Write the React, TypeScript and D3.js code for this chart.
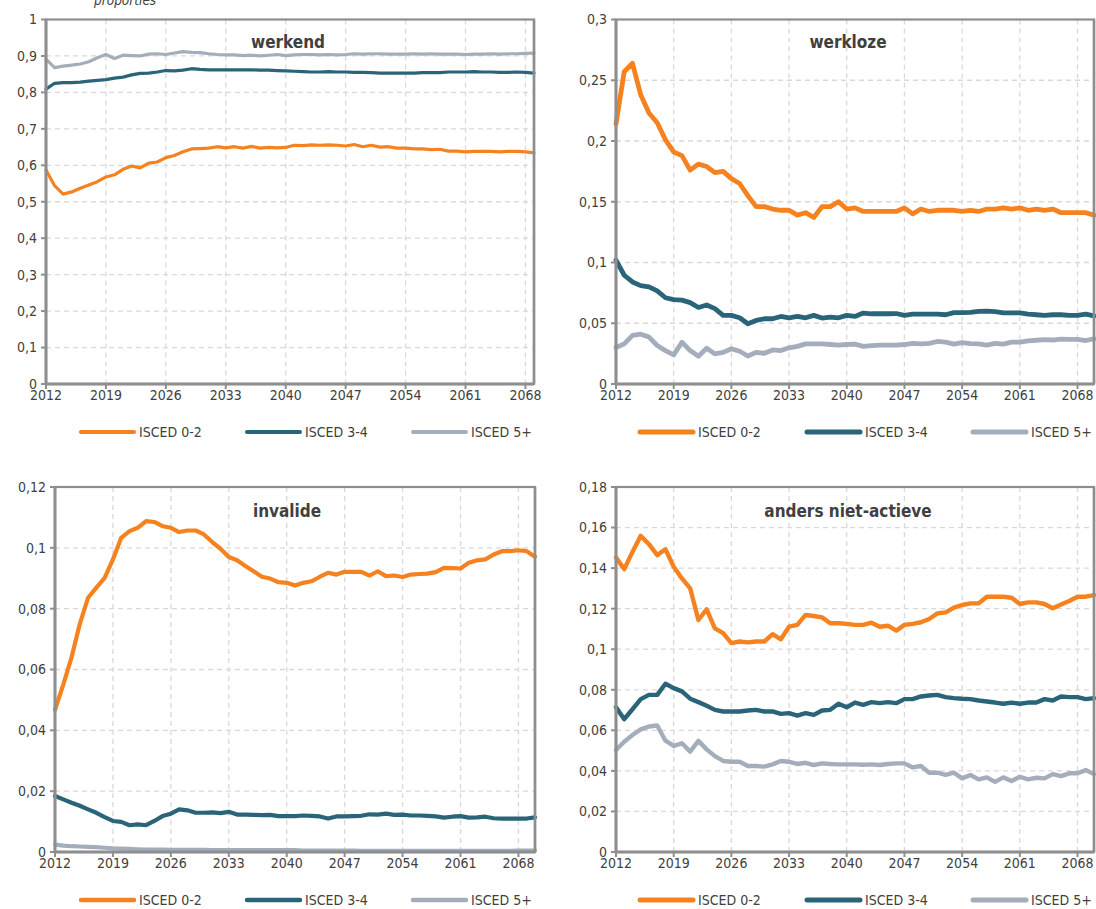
import React from 'react';
import * as d3 from 'd3';

// ---------- data ----------
const seriesNames = ['ISCED 0-2', 'ISCED 3-4', 'ISCED 5+'];
const seriesColors = ['#f5821f', '#2a6479', '#a4aebb'];
const xLabelYears = [2012, 2019, 2026, 2033, 2040, 2047, 2054, 2061, 2068];

const years2069 = d3.range(2012, 2070);
const years2070 = d3.range(2012, 2071);

const werkendTicks = [0, 0.1, 0.2, 0.3, 0.4, 0.5, 0.6, 0.7, 0.8, 0.9, 1];
const werklozeTicks = [0, 0.05, 0.1, 0.15, 0.2, 0.25, 0.3];
const invalideTicks = [0, 0.02, 0.04, 0.06, 0.08, 0.1, 0.12];
const andersTicks = [0, 0.02, 0.04, 0.06, 0.08, 0.1, 0.12, 0.14, 0.16, 0.18];

// werkend (2012-2069)
const werkend02 = [
  0.587, 0.544, 0.521, 0.527, 0.537, 0.546, 0.555, 0.568, 0.574, 0.589,
  0.598, 0.593, 0.606, 0.609, 0.621, 0.627, 0.637, 0.645, 0.646, 0.647,
  0.651, 0.648, 0.651, 0.647, 0.652, 0.647, 0.649, 0.648, 0.649, 0.655,
  0.654, 0.656, 0.655, 0.656, 0.655, 0.653, 0.657, 0.651, 0.655, 0.65,
  0.651, 0.647, 0.647, 0.645, 0.645, 0.643, 0.644, 0.639, 0.639, 0.637,
  0.638, 0.638, 0.638, 0.637, 0.638, 0.638, 0.637, 0.634,
];
const werkend34 = [
  0.809, 0.825, 0.827, 0.827, 0.828, 0.831, 0.833, 0.835, 0.839, 0.842,
  0.848, 0.852, 0.853, 0.856, 0.86, 0.859, 0.861, 0.865, 0.863, 0.862,
  0.862, 0.862, 0.862, 0.862, 0.862, 0.861, 0.861, 0.86, 0.859, 0.858,
  0.857, 0.856, 0.856, 0.857, 0.856, 0.856, 0.855, 0.855, 0.854, 0.853,
  0.853, 0.853, 0.853, 0.853, 0.854, 0.854, 0.854, 0.856, 0.856, 0.856,
  0.857, 0.856, 0.856, 0.855, 0.855, 0.856, 0.855, 0.853,
];
const werkend5 = [
  0.891, 0.868, 0.872, 0.875, 0.878, 0.884, 0.895, 0.904, 0.893, 0.902,
  0.901, 0.9, 0.905, 0.906, 0.904, 0.908, 0.912, 0.91, 0.909, 0.906,
  0.904, 0.903, 0.903, 0.901, 0.902, 0.9, 0.902, 0.904, 0.901, 0.903,
  0.904, 0.904, 0.903, 0.904, 0.903, 0.904, 0.906, 0.905, 0.906, 0.906,
  0.905, 0.905, 0.905, 0.906, 0.905, 0.906, 0.905, 0.905, 0.905, 0.904,
  0.905, 0.905, 0.906, 0.905, 0.906, 0.906, 0.907, 0.908,
];

// werkloze (2012-2070)
const werkloze02 = [
  0.214, 0.257, 0.264, 0.238, 0.223, 0.215, 0.201, 0.191, 0.188, 0.176,
  0.181, 0.179, 0.174, 0.175, 0.169, 0.165, 0.155, 0.146, 0.146, 0.144,
  0.143, 0.143, 0.139, 0.141, 0.137, 0.146, 0.146, 0.15, 0.144, 0.145,
  0.142, 0.142, 0.142, 0.142, 0.142, 0.145, 0.14, 0.144, 0.142, 0.143,
  0.143, 0.143, 0.142, 0.143, 0.142, 0.144, 0.144, 0.145, 0.144, 0.145,
  0.143, 0.144, 0.143, 0.144, 0.141, 0.141, 0.141, 0.141, 0.139,
];
const werkloze34 = [
  0.102, 0.0895, 0.084, 0.081, 0.08, 0.0766, 0.071, 0.0694, 0.069, 0.067,
  0.063, 0.065, 0.062, 0.0565, 0.0565, 0.0545, 0.0496, 0.0523, 0.0537, 0.0537,
  0.0556, 0.0545, 0.0556, 0.0545, 0.0565, 0.0543, 0.055, 0.0545, 0.0565, 0.0556,
  0.0584, 0.0578, 0.0578, 0.0578, 0.058, 0.0565, 0.0575, 0.0575, 0.0575, 0.0575,
  0.057, 0.0588, 0.0588, 0.059, 0.0598, 0.06, 0.0595, 0.0585, 0.0585, 0.0585,
  0.0575, 0.057, 0.0565, 0.057, 0.057, 0.0565, 0.0565, 0.0575, 0.056,
];
const werkloze5 = [
  0.03, 0.033, 0.04, 0.041, 0.0386, 0.0317, 0.0275, 0.024, 0.0344, 0.0275,
  0.0229, 0.0295, 0.0248, 0.026, 0.029, 0.027, 0.023, 0.026, 0.0253, 0.028,
  0.0275, 0.0298, 0.031, 0.033, 0.033, 0.033, 0.0325, 0.032, 0.0325, 0.0328,
  0.031, 0.0315, 0.032, 0.032, 0.032, 0.0325, 0.0335, 0.033, 0.0335, 0.035,
  0.0345, 0.0328, 0.034, 0.0332, 0.033, 0.032, 0.0335, 0.0328, 0.0345, 0.0345,
  0.0355, 0.036, 0.0365, 0.0362, 0.037, 0.0368, 0.0368, 0.0358, 0.0372,
];

// invalide (2012-2070)
const invalide02 = [
  0.0467, 0.055, 0.064, 0.075, 0.0836, 0.0869, 0.0901, 0.0962, 0.1033, 0.1055,
  0.1066, 0.1088, 0.1085, 0.1071, 0.1066, 0.1052, 0.1057, 0.1057, 0.1044, 0.1019,
  0.0997, 0.097, 0.0959, 0.094, 0.0923, 0.0905, 0.0899, 0.0887, 0.0885, 0.0876,
  0.0885, 0.089, 0.0905, 0.0918, 0.0912, 0.0921, 0.0921, 0.0921, 0.0909, 0.0923,
  0.0907, 0.0909, 0.0904, 0.0912, 0.0914, 0.0915, 0.092, 0.0934, 0.0933, 0.0932,
  0.0951, 0.0959, 0.0962, 0.0978, 0.0989, 0.0989, 0.0992, 0.0989, 0.0971,
];
const invalide34 = [
  0.0184, 0.0173, 0.0162, 0.0152, 0.014, 0.0129, 0.0115, 0.0102, 0.0099, 0.0088,
  0.0091, 0.0088, 0.0102, 0.0118, 0.0126, 0.014, 0.0137, 0.0129, 0.0129, 0.013,
  0.0128, 0.0132, 0.0123, 0.0123, 0.0122, 0.0121, 0.0122, 0.0118, 0.0118, 0.0118,
  0.012, 0.0119, 0.0117, 0.011, 0.0117, 0.0117, 0.0118, 0.0119, 0.0124, 0.0123,
  0.0126, 0.0122, 0.0123, 0.012, 0.012, 0.0119, 0.0117, 0.0113, 0.0116, 0.0118,
  0.0113, 0.0114, 0.0116, 0.0111, 0.011, 0.011, 0.011, 0.011, 0.0114,
];
const invalide5 = [
  0.0024, 0.0021, 0.0019, 0.0018, 0.0017, 0.0016, 0.0014, 0.0012, 0.0011, 0.001,
  0.0009, 0.0008, 0.0008, 0.0008, 0.0007, 0.0007, 0.0007, 0.0007, 0.0007, 0.0006,
  0.0006, 0.0006, 0.0006, 0.0006, 0.0006, 0.0006, 0.0006, 0.0006, 0.0006, 0.0006,
  0.0005, 0.0005, 0.0005, 0.0005, 0.0005, 0.0005, 0.0005, 0.0004, 0.0004, 0.0004,
  0.0004, 0.0004, 0.0004, 0.0004, 0.0004, 0.0004, 0.0004, 0.0004, 0.0004, 0.0004,
  0.0004, 0.0004, 0.0004, 0.0004, 0.0004, 0.0004, 0.0005, 0.0005, 0.0005,
];

// anders niet-actieve (2012-2070)
const anders02 = [
  0.1452, 0.1395, 0.148, 0.1559, 0.1518, 0.1464, 0.1493, 0.1407, 0.1349, 0.13,
  0.1144, 0.1197, 0.1103, 0.1079, 0.103, 0.1038, 0.1034, 0.1038, 0.1038, 0.1074,
  0.1049, 0.1111, 0.112, 0.1169, 0.1164, 0.1157, 0.1128, 0.1128, 0.1125, 0.112,
  0.112, 0.1131, 0.1111, 0.1116, 0.1092, 0.112, 0.1125, 0.1133, 0.1149, 0.1177,
  0.1182, 0.1205, 0.1218, 0.1226, 0.1226, 0.1259, 0.1259, 0.1259, 0.1254, 0.1223,
  0.1231, 0.1231, 0.1223, 0.1202, 0.1221, 0.1238, 0.1259, 0.1259, 0.1267,
];
const anders34 = [
  0.0714, 0.0655, 0.0704, 0.0754, 0.0775, 0.0775, 0.083, 0.0808, 0.0792, 0.0756,
  0.0739, 0.0721, 0.0701, 0.0693, 0.0693, 0.0693, 0.0698, 0.0701, 0.0693, 0.0693,
  0.0681, 0.0685, 0.0673, 0.0685, 0.0676, 0.0698, 0.0701, 0.0731, 0.0714, 0.0737,
  0.0726, 0.0739, 0.0734, 0.0739, 0.0734, 0.0754, 0.0754, 0.0767, 0.0772, 0.0775,
  0.0764, 0.0759, 0.0756, 0.0754, 0.0747, 0.0742, 0.0737, 0.0731, 0.0737, 0.0731,
  0.0737, 0.0737, 0.0754, 0.0747, 0.0767, 0.0764, 0.0764, 0.0754, 0.0759,
];
const anders5 = [
  0.0503, 0.0544, 0.0577, 0.0605, 0.0619, 0.0624, 0.0549, 0.0523, 0.0536, 0.0495,
  0.0548, 0.0506, 0.0473, 0.0449, 0.0445, 0.0445, 0.0424, 0.0424, 0.0421, 0.0432,
  0.0449, 0.0445, 0.0434, 0.044, 0.0429, 0.0437, 0.0434, 0.0432, 0.0432, 0.0432,
  0.043, 0.0432, 0.0429, 0.0434, 0.0437, 0.0437, 0.0417, 0.0424, 0.0391, 0.0391,
  0.038, 0.0391, 0.0363, 0.038, 0.0358, 0.0368, 0.0346, 0.0368, 0.035, 0.0371,
  0.0358, 0.0366, 0.0363, 0.0384, 0.0374, 0.0388, 0.0388, 0.0404, 0.0384,
];

// ---------- layout ----------
const FONT = "'DejaVu Sans Condensed', 'DejaVu Sans', sans-serif";
const TEXT = '#404040';
const FRAME = '#8e8e8e';
const GRID = '#d9d9d9';

const panels = [
  { title: 'werkend', years: years2069, series: [werkend02, werkend34, werkend5], ticks: werkendTicks,
    x0: 46, x1: 534, y0: 19.5, y1: 384, lw: 3.2, legLw: 4, titleX: 288, titleY: 48, legY: 432, legX: [81, 247, 413] },
  { title: 'werkloze', years: years2070, series: [werkloze02, werkloze34, werkloze5], ticks: werklozeTicks,
    x0: 616, x1: 1094, y0: 19.5, y1: 384, lw: 4.8, legLw: 5, titleX: 848, titleY: 48, legY: 432, legX: [640, 807, 973] },
  { title: 'invalide', years: years2070, series: [invalide02, invalide34, invalide5], ticks: invalideTicks,
    x0: 55, x1: 535, y0: 487, y1: 852, lw: 4.2, legLw: 4.5, titleX: 287, titleY: 517, legY: 900, legX: [81, 247, 413] },
  { title: 'anders niet-actieve', years: years2070, series: [anders02, anders34, anders5], ticks: andersTicks,
    x0: 616, x1: 1094, y0: 487, y1: 852, lw: 4.4, legLw: 5, titleX: 848, titleY: 517, legY: 900, legX: [640, 807, 973] },
];

const fmt = (v: number) => String(+v.toFixed(4)).replace('.', ',');

function Panel({ p }: { p: any }) {
  const years: number[] = p.years;
  const x = d3.scaleLinear().domain([years[0], years[years.length - 1]]).range([p.x0, p.x1]);
  const yMax = p.ticks[p.ticks.length - 1];
  const y = d3.scaleLinear().domain([0, yMax]).range([p.y1, p.y0]);
  const line = d3.line<number>().x((_, i) => x(years[i])).y((d) => y(d));
  return (
    <g>
      {/* horizontal grid */}
      {p.ticks.filter((t: number) => t > 0 && t < yMax).map((t: number) => (
        <line key={'h' + t} x1={p.x0} x2={p.x1} y1={y(t)} y2={y(t)} stroke={GRID} strokeWidth={1.3} strokeDasharray="5,4" />
      ))}
      {/* vertical grid */}
      {xLabelYears.filter((yr) => yr > years[0]).map((yr) => (
        <line key={'v' + yr} x1={x(yr)} x2={x(yr)} y1={p.y0} y2={p.y1} stroke={GRID} strokeWidth={1.3} strokeDasharray="5,4" />
      ))}
      {/* series */}
      {p.series.map((s: number[], i: number) => (
        <path key={'s' + i} d={line(s) || ''} fill="none" stroke={seriesColors[i]} strokeWidth={p.lw}
          strokeLinejoin="round" strokeLinecap="round" />
      )).reverse()}
      {/* frame */}
      <rect x={p.x0} y={p.y0} width={p.x1 - p.x0} height={p.y1 - p.y0} fill="none" stroke={FRAME} strokeWidth={2.2} />
      <line x1={p.x0} x2={p.x0} y1={p.y0} y2={p.y1} stroke={FRAME} strokeWidth={3} />
      <line x1={p.x0} x2={p.x1} y1={p.y1} y2={p.y1} stroke={FRAME} strokeWidth={3} />
      <line x1={p.x1} x2={p.x1} y1={p.y0} y2={p.y1} stroke={FRAME} strokeWidth={2.6} />
      {/* y ticks */}
      {p.ticks.map((t: number) => (
        <g key={'yt' + t}>
          <line x1={p.x0 - 5} x2={p.x0} y1={y(t)} y2={y(t)} stroke={FRAME} strokeWidth={2} />
          <text x={p.x0 - 9} y={y(t)} dy="0.35em" textAnchor="end" fontSize={14} fill={TEXT} fontFamily={FONT}>{fmt(t)}</text>
        </g>
      ))}
      {/* x ticks */}
      {xLabelYears.map((yr) => (
        <g key={'xt' + yr}>
          <line x1={x(yr)} x2={x(yr)} y1={p.y1} y2={p.y1 + 5} stroke={FRAME} strokeWidth={2} />
          <text x={x(yr)} y={p.y1 + 16} textAnchor="middle" fontSize={14} fill={TEXT} fontFamily={FONT}>{yr}</text>
        </g>
      ))}
      {/* title */}
      <text x={p.titleX} y={p.titleY} textAnchor="middle" fontSize={17} fontWeight="bold" fill={TEXT} fontFamily={FONT}>{p.title}</text>
      {/* legend */}
      {seriesNames.map((n, i) => (
        <g key={'lg' + i}>
          <line x1={p.legX[i]} x2={p.legX[i] + 53} y1={p.legY} y2={p.legY} stroke={seriesColors[i]} strokeWidth={p.legLw} strokeLinecap="round" />
          <text x={p.legX[i] + 58} y={p.legY} dy="0.35em" fontSize={14} fill={TEXT} fontFamily={FONT}>{n}</text>
        </g>
      ))}
    </g>
  );
}

export default function App() {
  return (
    <svg width={1096} height={909} viewBox="0 0 1096 909"
      style={{ position: 'absolute', left: 0, top: 0, display: 'block', background: '#fff' }}>
      <rect x={0} y={0} width={1096} height={909} fill="#fff" />
      <text x={94} y={4.5} fontSize={13.5} fontStyle="italic" fill={TEXT} fontFamily={FONT}>proporties</text>
      {panels.map((p) => <Panel key={p.title} p={p} />)}
    </svg>
  );
}
